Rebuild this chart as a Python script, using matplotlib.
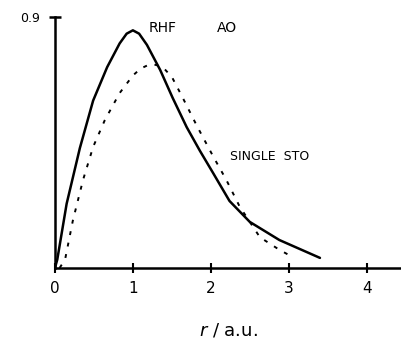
import matplotlib
matplotlib.use('Agg')
import numpy as np
from matplotlib import pyplot as plt

# radial distribution
r_rhf = [0.0, 0.03, 0.15, 0.32, 0.49, 0.67, 0.83, 0.92, 1.0, 1.08, 1.18, 1.35,
         1.51, 1.69, 1.86, 2.03, 2.24, 2.5, 2.88, 3.4]
p_rhf = [0.0, 0.03, 0.23, 0.43, 0.60, 0.72, 0.805, 0.84, 0.852, 0.84, 0.80, 0.71,
         0.61, 0.505, 0.42, 0.34, 0.24, 0.165, 0.10, 0.036]

r_sto = [0.06, 0.13, 0.23, 0.36, 0.49, 0.64, 0.83, 1.0, 1.1, 1.2, 1.3, 1.4,
         1.5, 1.64, 1.82, 2.03, 2.2, 2.37, 2.63, 2.88, 3.05]
p_sto = [0.0, 0.03, 0.17, 0.315, 0.434, 0.53, 0.627, 0.69, 0.715, 0.728, 0.728, 0.715,
         0.685, 0.61, 0.51, 0.40, 0.315, 0.22, 0.11, 0.065, 0.039]

xticks = [0, 1, 2, 3, 4]
xticklabels = ['0', '1', '2', '3', '4']

fig = plt.figure(figsize=(4.01, 3.53), dpi=100)
ax = fig.add_axes([0.137, 0.241, 0.863, 0.711])

ax.plot(r_rhf, p_rhf, color='black', lw=1.8, solid_capstyle='round',
        solid_joinstyle='round')
ax.plot(r_sto, p_sto, color='black', lw=1.4, linestyle=(0, (2, 4)))

ax.set_xlim(0, 4.44)
ax.set_ylim(0, 0.9)
for s in ['top', 'right']:
    ax.spines[s].set_visible(False)
for s in ['left', 'bottom']:
    ax.spines[s].set_linewidth(1.8)

ax.set_xticks(xticks)
ax.set_xticklabels(xticklabels, fontsize=11)
ax.tick_params(axis='x', direction='inout', length=7, width=1.5, pad=6)
ax.set_yticks([0.9])
ax.set_yticklabels(['0.9'], fontsize=9)
ax.tick_params(axis='y', direction='inout', length=9, width=1.8, pad=6)

ax.set_xlabel(r'$r$ / a.u.', fontsize=13, labelpad=18)

ax.text(1.2, 0.86, 'RHF', fontsize=10, ha='left', va='center')
ax.text(2.08, 0.86, 'AO', fontsize=10, ha='left', va='center')
ax.text(2.25, 0.40, 'SINGLE  STO', fontsize=9, ha='left', va='center')

fig.savefig('out.png', dpi=100)
